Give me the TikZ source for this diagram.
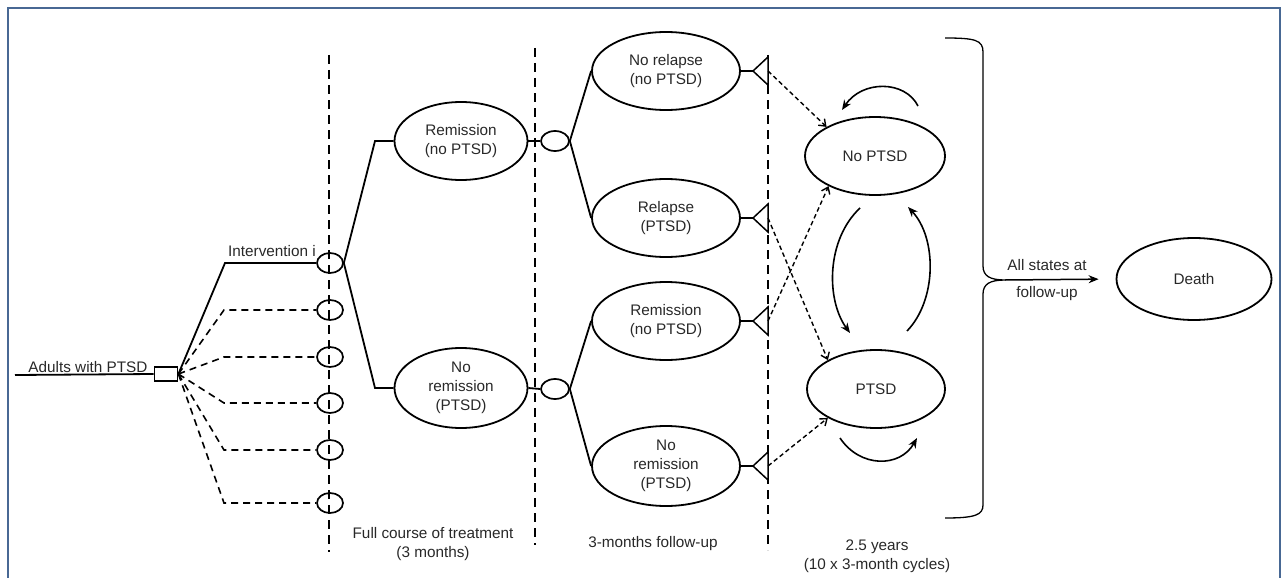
\documentclass[tikz,border=0pt]{standalone}
\usepackage{fontspec}
\setmainfont{Liberation Sans}
\usetikzlibrary{shapes.geometric,arrows.meta}
\definecolor{frameblue}{RGB}{72,104,148}
\definecolor{txt}{RGB}{40,40,40}
\begin{document}
\begin{tikzpicture}[x=1pt,y=-1pt,
  every node/.style={font=\fontsize{15.3}{19}\selectfont, text=txt},
  st/.style={ellipse,draw,line width=1.8pt,inner sep=0pt,align=center},
  chance/.style={ellipse,draw,line width=1.7pt,minimum width=26pt,minimum height=20pt,inner sep=0pt},
  ln/.style={line width=1.8pt},
  dl/.style={line width=1.6pt,dash pattern=on 7pt off 5pt},
  vdash/.style={line width=2.4pt,dash pattern=on 9pt off 6pt},
  darr/.style={line width=1.4pt,dash pattern=on 4.5pt off 3pt,-{Straight Barb[length=6pt,width=9pt]}},
  looparr/.style={line width=1.6pt,-{Stealth[length=10pt,width=8pt]}},
  lbl/.style={inner sep=0pt,align=center}
]
\useasboundingbox (0,0) rectangle (1285,578);
\clip (0,0) rectangle (1285,578);
\draw[frameblue,line width=2.8pt] (8,8) rectangle (1280,600);

% vertical dashed separators
\coordinate (v1t) at (329,55);  \coordinate (v1b) at (329,552);
\coordinate (v2t) at (535,48);  \coordinate (v2b) at (535,545);
\coordinate (v3t) at (768,55);  \coordinate (v3b) at (768,550);
\draw[vdash] (v1t) -- (v1b);
\draw[vdash] (v2t) -- (v2b);
\draw[vdash] (v3t) -- (v3b);

% root
\coordinate (start) at (15,375);
\node[draw,line width=1.8pt,minimum width=23pt,minimum height=14pt,inner sep=0pt] (box) at (166,374) {};
\draw[ln] (start) -- (box.west);
\node[lbl,anchor=base] (adults) at (88,372) {Adults with PTSD};

% intervention chance nodes
\node[chance] (c0) at (330,263) {};
\node[chance] (c1) at (330,310) {};
\node[chance] (c2) at (330,357) {};
\node[chance] (c3) at (330,403) {};
\node[chance] (c4) at (330,450) {};
\node[chance] (c5) at (330,503) {};
\coordinate (b0) at (225,263);
\coordinate (b1) at (224,310);
\coordinate (b2) at (224,357);
\coordinate (b3) at (224,403);
\coordinate (b4) at (224,450);
\coordinate (b5) at (224,503);
\draw[ln] (box.east) -- (b0) -- (c0.west);
\draw[dl] (box.east) -- (b1) -- (c1.west);
\draw[dl] (box.east) -- (b2) -- (c2.west);
\draw[dl] (box.east) -- (b3) -- (c3.west);
\draw[dl] (box.east) -- (b4) -- (c4.west);
\draw[dl] (box.east) -- (b5) -- (c5.west);
\node[lbl,anchor=base] (interv) at (272,256) {Intervention i};

% treatment outcomes
\node[st,minimum width=133pt,minimum height=78pt] (rem) at (461,141) {Remission\\(no PTSD)};
\node[st,minimum width=133pt,minimum height=80pt] (norem) at (461,388) {No\\remission\\(PTSD)};
\coordinate (e0) at (375,141);
\coordinate (e1) at (375,388);
\draw[ln] (c0.east) -- (e0) -- (rem.west);
\draw[ln] (c0.east) -- (e1) -- (norem.west);

% follow-up chance nodes
\node[chance,minimum width=28pt] (d0) at (555,141) {};
\node[chance,minimum width=28pt] (d1) at (555,389) {};
\draw[ln] (rem.east) -- (d0.west);
\draw[ln] (norem.east) -- (d1.west);

% follow-up outcomes
\node[st,minimum width=148pt,minimum height=78pt] (nrel) at (666,71) {No relapse\\(no PTSD)};
\node[st,minimum width=148pt,minimum height=78pt] (rel) at (666,218) {Relapse\\(PTSD)};
\node[st,minimum width=148pt,minimum height=78pt] (remb) at (666,321) {Remission\\(no PTSD)};
\node[st,minimum width=148pt,minimum height=80pt] (noremb) at (666,466) {No\\remission\\(PTSD)};
\draw[ln] (d0.east) -- (nrel.west);
\draw[ln] (d0.east) -- (rel.west);
\draw[ln] (d1.east) -- (remb.west);
\draw[ln] (d1.east) -- (noremb.west);

% terminal triangles
\foreach \n/\yy in {nrel/71,rel/218,remb/321,noremb/466}{
  \coordinate (\n-a) at (753,\yy);
  \coordinate (\n-t) at (768,\yy-14);
  \coordinate (\n-b) at (768,\yy+14);
  \coordinate (\n-o) at (768,\yy);
  \draw[ln] (\n.east) -- (\n-a);
  \draw[line width=1.5pt,line join=miter,fill=white] (\n-a) -- (\n-t) -- (\n-b) -- cycle;
}

% Markov states
\node[st,minimum width=140pt,minimum height=78pt] (np) at (875,156) {No PTSD};
\node[st,minimum width=138pt,minimum height=78pt] (p) at (876,389) {PTSD};
\node[st,minimum width=155pt,minimum height=82pt] (death) at (1194,279) {Death};

% entry arrows
\draw[darr] (nrel-o) -- (np.149);
\draw[darr] (remb-o) -- (np.213);
\draw[darr] (rel-o) -- (p.149);
\draw[darr] (noremb-o) -- (p.211);

% transitions
\coordinate (l1s) at (918,106); \coordinate (l1e) at (842,110);
\draw[looparr] (l1s) .. controls (905,80) and (862,80) .. (l1e);
\coordinate (l2s) at (840,438); \coordinate (l2e) at (917,438);
\draw[looparr] (l2s) .. controls (860,468) and (900,468) .. (l2e);
\coordinate (l3s) at (860,208); \coordinate (l3e) at (850,333);
\draw[looparr] (l3s) .. controls (826,240) and (826,300) .. (l3e);
\coordinate (l4s) at (907,331); \coordinate (l4e) at (908,207);
\draw[looparr] (l4s) .. controls (937,300) and (937,238) .. (l4e);

% brace
\coordinate (brtop) at (945,38);
\coordinate (brbot) at (945,518);
\coordinate (brtip) at (1005,280);
\draw[line width=1.3pt] (brtop) .. controls (975,38) and (983,40) .. (983,52) -- (983,266)
   .. controls (983,276) and (990,280) .. (brtip)
   .. controls (990,280) and (983,284) .. (983,294) -- (983,505)
   .. controls (983,515) and (975,518) .. (brbot);
\draw[line width=1.5pt,-{Stealth[length=10pt,width=8pt]},shorten >=17pt] (brtip) -- (death.west);
\node[lbl] (allst) at (1047,265) {All states at};
\node[lbl] (fu) at (1047,294) {follow-up};

% period labels
\node[lbl] (per1) at (433,544) {Full course of treatment\\(3 months)};
\node[lbl] (per2) at (653,544) {3-months follow-up};
\node[lbl] (per3) at (877,556) {2.5 years\\(10 x 3-month cycles)};
\end{tikzpicture}
\end{document}
